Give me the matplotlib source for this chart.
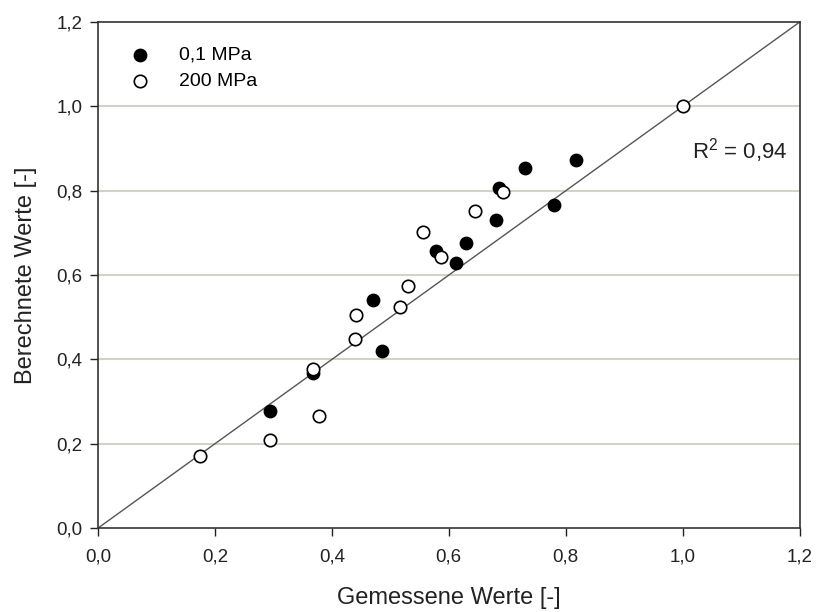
import matplotlib.pyplot as plt
from matplotlib.ticker import FuncFormatter

plt.rcParams['font.family'] = ['Liberation Sans', 'DejaVu Sans']

# 0,1 MPa (gefüllte Punkte)
x_01 = [0.294, 0.367, 0.470, 0.485, 0.578, 0.613, 0.630, 0.680, 0.686, 0.730, 0.780, 0.818]
y_01 = [0.277, 0.367, 0.540, 0.421, 0.656, 0.629, 0.675, 0.731, 0.807, 0.853, 0.766, 0.874]

# 200 MPa (offene Punkte)
x_200 = [0.174, 0.295, 0.368, 0.378, 0.439, 0.442, 0.517, 0.530, 0.556, 0.586, 0.644, 0.692, 1.0]
y_200 = [0.170, 0.210, 0.378, 0.265, 0.449, 0.506, 0.525, 0.575, 0.702, 0.643, 0.752, 0.797, 1.0]

ticks = [0.0, 0.2, 0.4, 0.6, 0.8, 1.0, 1.2]

fig = plt.figure(figsize=(8.16, 6.12), dpi=100)
ax = fig.add_axes([0.120, 0.137, 0.860, 0.827])

for t in ticks[1:-1]:
    ax.axhline(t, color='#d2d2ca', lw=1.5, zorder=0)

ax.plot([0, 1.2], [0, 1.2], color='#555555', lw=1.0, zorder=1)

ax.scatter(x_01, y_01, s=80, c='black', edgecolors='black', linewidths=1.0,
           zorder=3, label='0,1 MPa')
ax.scatter(x_200, y_200, s=80, c='white', edgecolors='black', linewidths=1.2,
           zorder=3, label='200 MPa')

ax.set_xlim(0, 1.2)
ax.set_ylim(0, 1.2)
ax.set_xticks(ticks)
ax.set_yticks(ticks)
fmt = FuncFormatter(lambda v, p: f"{v:.1f}".replace('.', ','))
ax.xaxis.set_major_formatter(fmt)
ax.yaxis.set_major_formatter(fmt)
ax.tick_params(direction='out', length=6, width=1, labelsize=13.5, colors='#222222')
ax.tick_params(axis='x', pad=9)
ax.tick_params(axis='y', pad=5)

for sp in ax.spines.values():
    sp.set_color('#333333')
    sp.set_linewidth(1.2)

ax.set_xlabel('Gemessene Werte [-]', fontsize=17, color='#222222', labelpad=15)
ax.set_ylabel('Berechnete Werte [-]', fontsize=17, color='#222222', labelpad=14)

ax.text(0.983, 0.747, '$\\mathregular{R^2}$ = 0,94', fontsize=16, color='#222222',
        ha='right', va='center', transform=ax.transAxes)

ax.legend(loc='upper left', frameon=False, fontsize=14, handletextpad=1.0,
          labelspacing=0.45, bbox_to_anchor=(0.032, 0.952), borderaxespad=0,
          borderpad=0, scatterpoints=1)

fig.savefig('out.png', dpi=100)
